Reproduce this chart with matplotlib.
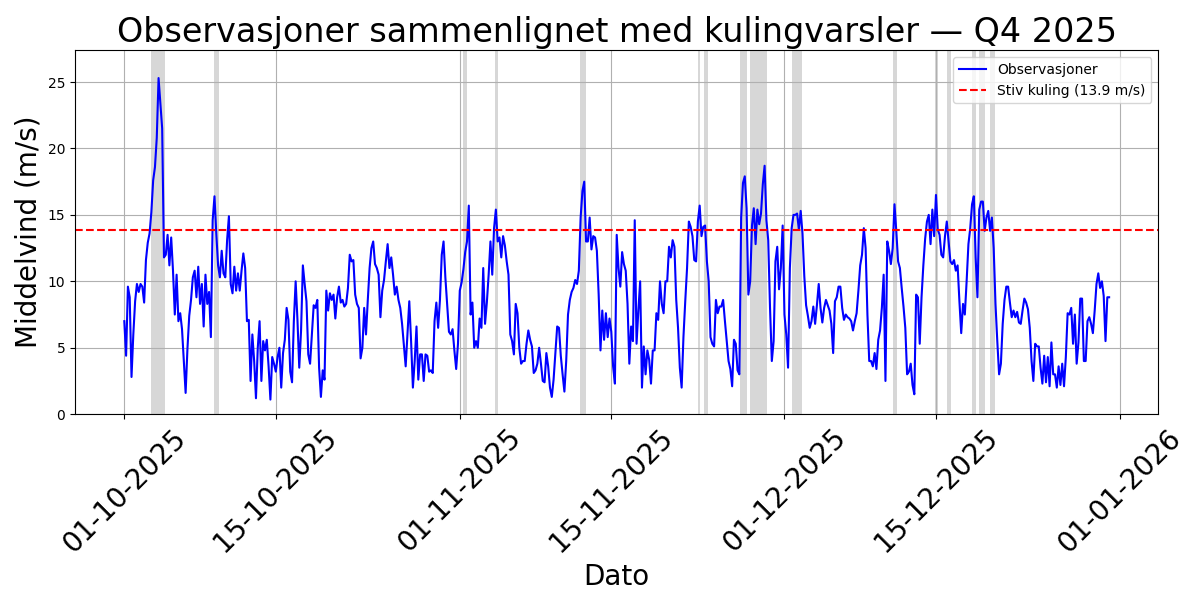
import matplotlib
matplotlib.use("Agg")
import matplotlib.pyplot as plt
import matplotlib.dates as mdates
import pandas as pd

# Middelvind (m/s), 4-timers verdier fra 01-10-2025 00:00
wind = [
    # 01.10 - 12.10
    7.0, 4.4, 9.6, 8.8, 2.8, 6.0, 8.5, 9.8, 9.2, 9.8, 9.6, 8.4,
    11.6, 12.9, 13.6, 15.2, 17.6, 18.6, 20.8, 25.3, 23.4, 21.5, 11.8, 12.0,
    13.5, 11.2, 13.3, 10.8, 7.5, 10.5, 7.0, 7.6, 6.4, 4.0, 1.6, 4.9,
    7.4, 8.6, 10.3, 10.8, 8.8, 11.1, 8.3, 9.8, 6.6, 10.5, 8.3, 9.2,
    5.8, 14.6, 16.4, 13.6, 11.2, 10.3, 12.3, 10.6, 10.3, 13.1, 14.9, 9.8,
    9.1, 11.1, 9.3, 10.6, 9.3, 10.8, 12.1,
    # 12.10 - 23.10
    11.0, 7.0, 7.1, 2.5, 6.0, 4.0, 1.2, 5.0, 7.0, 2.5, 5.5, 4.8,
    5.6, 3.6, 1.1, 4.3, 3.8, 3.2, 4.3, 5.0, 2.0, 4.6, 5.6, 8.0,
    7.1, 3.2, 2.4, 7.0, 10.0, 7.1, 3.5, 6.3, 11.2, 9.8, 8.5, 4.5,
    3.8, 6.0, 8.2, 8.0, 8.6, 3.5, 1.3, 3.3, 2.6, 9.3, 7.8, 9.1,
    8.6, 9.0, 7.2, 8.8, 9.6, 8.4, 8.6, 8.1, 8.3, 9.5, 12.0, 11.5,
    11.6, 9.0, 8.3, 8.0, 4.2, 5.0, 8.0, 6.0,
    # 23.10 - 04.11
    8.6, 11.0, 12.5, 13.0, 11.3, 11.0, 10.5, 7.3, 9.3, 10.1, 11.5, 12.8,
    11.0, 11.8, 10.5, 9.0, 9.6, 8.6, 8.0, 6.8, 5.2, 3.6, 6.0, 8.5,
    5.5, 2.0, 4.0, 6.6, 2.6, 4.5, 4.5, 2.5, 4.5, 4.4, 3.2, 3.3,
    3.1, 7.0, 8.4, 6.5, 8.6, 12.0, 13.0, 10.3, 8.2, 6.2, 6.0, 6.4,
    4.8, 3.4, 5.3, 9.3, 9.9, 10.9, 12.2, 13.0, 15.7, 7.5, 8.4, 5.0,
    5.5, 5.0, 7.2, 6.5, 11.0, 6.8, 8.4, 10.5, 13.0, 10.5, 14.0,
    # 04.11 - 15.11
    15.4, 13.0, 13.3, 11.8, 13.4, 12.7, 11.5, 10.5, 6.0, 5.5, 4.5, 8.3,
    7.6, 5.0, 3.8, 4.0, 4.0, 5.3, 6.3, 5.6, 5.1, 3.1, 3.3, 3.8,
    5.0, 3.8, 2.5, 2.4, 4.6, 3.6, 2.0, 1.3, 2.6, 4.6, 6.6, 6.5,
    4.4, 3.0, 1.7, 4.0, 7.5, 8.6, 9.2, 9.5, 10.1, 9.8, 10.8, 14.8,
    16.8, 17.5, 13.0, 13.0, 14.8, 12.4, 13.4, 13.3, 12.3, 9.0, 4.8, 7.8,
    5.6, 7.6, 5.8, 7.2, 6.2, 3.6, 2.3, 13.5, 11.0,
    # 15.11 - 27.11
    9.6, 12.2, 11.3, 10.8, 8.3, 3.8, 6.6, 5.5, 14.6, 5.3, 7.8, 10.0,
    2.0, 5.1, 3.0, 4.8, 4.1, 2.3, 4.8, 4.8, 7.6, 7.1, 10.0, 8.3,
    7.6, 10.0, 10.0, 12.6, 11.8, 13.1, 12.6, 8.6, 6.5, 3.5, 2.0, 5.8,
    8.5, 11.0, 14.5, 14.1, 13.4, 11.6, 11.5, 14.5, 15.7, 13.4, 14.1, 14.2,
    11.5, 10.0, 5.8, 5.3, 5.1, 8.6, 7.6, 8.1, 8.1, 8.6, 7.0, 5.5,
    4.0, 3.4, 2.1, 5.6, 5.3, 3.3, 3.0, 14.8, 17.4, 17.9,
    # 27.11 - 08.12
    15.5, 9.0, 10.0, 14.2, 15.5, 12.8, 15.4, 14.3, 15.1, 17.3, 18.7, 14.6,
    13.1, 8.0, 4.0, 5.5, 11.5, 12.6, 9.4, 11.0, 14.2, 7.5, 6.0, 3.5,
    11.0, 14.0, 15.0, 15.0, 15.1, 13.9, 15.3, 13.6, 10.4, 8.2, 7.4, 6.5,
    7.0, 8.1, 6.8, 8.2, 9.8, 8.0, 6.9, 8.0, 8.6, 8.2, 7.8, 6.8,
    4.6, 8.5, 8.8, 9.6, 9.6, 8.0, 7.1, 7.5, 7.3, 7.2, 7.0, 6.3,
    7.0, 7.6, 9.3, 11.2, 12.0, 14.0, 12.5, 7.5, 4.0,
    # 09.12 - 20.12
    4.0, 3.6, 4.6, 3.4, 5.6, 6.3, 8.0, 10.5, 2.5, 13.0, 12.3, 11.3,
    12.5, 15.8, 13.8, 11.5, 11.0, 9.5, 8.1, 6.5, 3.0, 3.2, 3.8, 2.2,
    1.5, 9.0, 8.8, 5.3, 8.8, 11.2, 13.2, 14.5, 15.0, 12.8, 15.4, 13.4,
    16.5, 13.9, 13.5, 12.0, 11.8, 13.4, 14.5, 13.0, 11.5, 11.3, 11.6, 10.8,
    11.2, 8.5, 6.1, 8.3, 7.5, 10.0, 12.8, 14.0, 15.8, 16.4, 11.8, 8.8,
    15.4, 16.0, 16.0, 13.8, 14.8, 15.3, 13.8, 14.8, 12.5, 8.3,
    # 20.12 - 31.12
    5.5, 3.0, 3.8, 6.8, 8.6, 9.6, 9.6, 8.4, 7.3, 7.8, 7.3, 7.7,
    6.9, 6.8, 7.8, 8.7, 8.4, 7.9, 6.5, 4.0, 2.5, 5.3, 5.1, 5.1,
    3.5, 2.3, 4.4, 2.4, 4.3, 2.1, 5.4, 3.0, 3.0, 2.0, 3.6, 2.2,
    3.8, 2.1, 4.3, 7.6, 7.5, 8.0, 5.3, 7.5, 3.8, 5.4, 8.7, 8.7,
    4.0, 4.0, 7.0, 7.3, 6.8, 6.1, 7.8, 9.8, 10.6, 9.5, 10.0, 8.9,
    5.5, 8.8, 8.8,
]

# Perioder med kulingvarsel
warn_start = [
    "2025-10-03 12:00", "2025-10-09 07:00", "2025-11-01 07:00", "2025-11-04 05:00",
    "2025-11-12 02:00", "2025-11-23 00:00", "2025-11-23 14:00", "2025-11-26 22:00",
    "2025-11-27 19:00", "2025-12-01 16:00", "2025-12-11 00:00", "2025-12-14 22:00",
    "2025-12-16 00:00", "2025-12-18 07:00", "2025-12-19 00:00", "2025-12-20 00:00",
]
warn_end = [
    "2025-10-04 19:00", "2025-10-09 18:00", "2025-11-01 17:00", "2025-11-04 13:00",
    "2025-11-12 16:00", "2025-11-23 05:00", "2025-11-23 22:00", "2025-11-27 14:00",
    "2025-11-29 10:00", "2025-12-02 16:00", "2025-12-11 10:00", "2025-12-15 05:00",
    "2025-12-16 10:00", "2025-12-18 17:00", "2025-12-19 12:00", "2025-12-20 10:00",
]

threshold = 13.9

times = pd.date_range("2025-10-01", periods=len(wind), freq="4h")

fig, ax = plt.subplots(figsize=(11.82, 5.9), dpi=100)
fig.subplots_adjust(left=0.0635, right=0.98, top=0.915, bottom=0.298)

# Kulingvarsler som grå felt
for s, e in zip(warn_start, warn_end):
    ax.axvspan(pd.Timestamp(s), pd.Timestamp(e), color="lightgray", alpha=0.9, lw=0)

ax.plot(times, wind, color="blue", lw=1.5, label="Observasjoner")
ax.axhline(threshold, color="red", ls="--", lw=1.5, label=f"Stiv kuling ({threshold} m/s)")

ax.set_ylim(0, 27.4)
ax.xaxis.set_major_locator(mdates.DayLocator(bymonthday=[1, 15]))
ax.xaxis.set_major_formatter(mdates.DateFormatter("%d-%m-%Y"))
plt.setp(ax.get_xticklabels(), rotation=45, fontsize=20)

ax.set_title("Observasjoner sammenlignet med kulingvarsler — Q4 2025", fontsize=24)
ax.set_xlabel("Dato", fontsize=20)
ax.set_ylabel("Middelvind (m/s)", fontsize=20)
ax.grid(True)
ax.legend(loc="upper right")

fig.savefig("out.png", dpi=100)
